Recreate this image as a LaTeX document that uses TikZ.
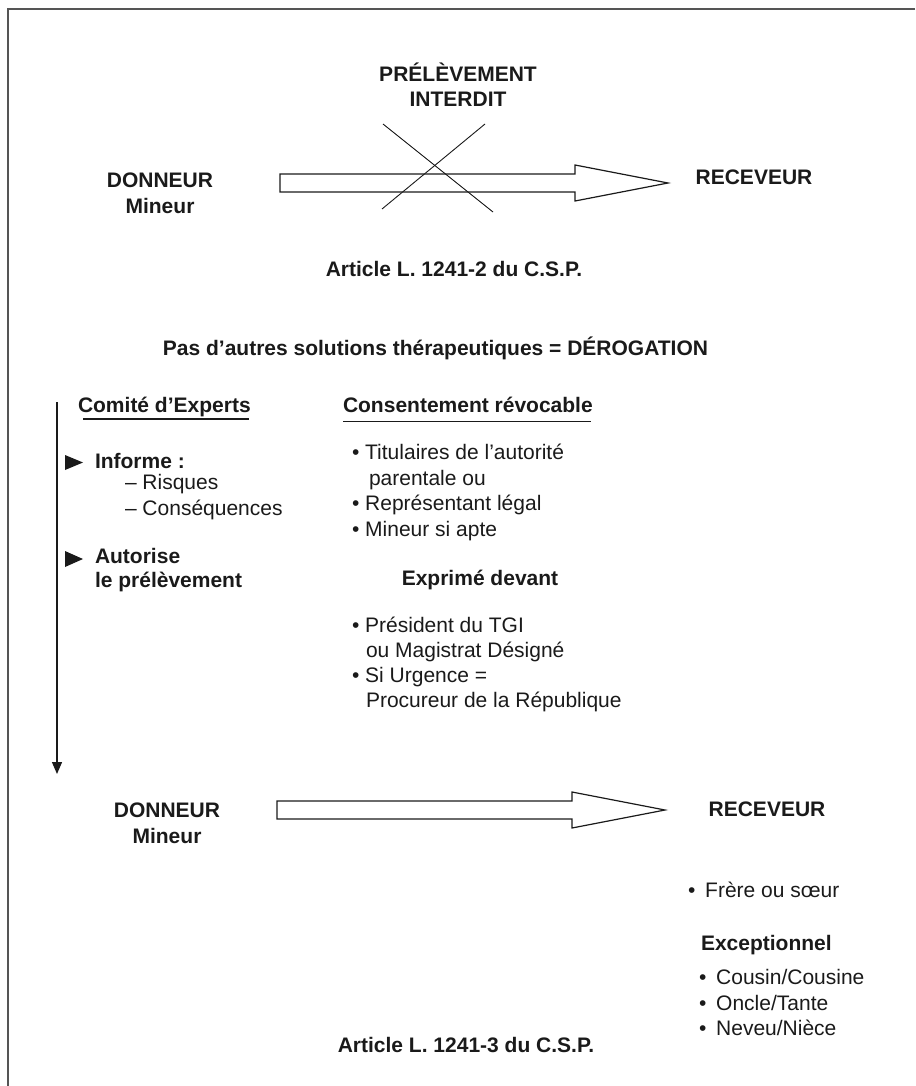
\documentclass[tikz,border=0pt]{standalone}
\usepackage{fontspec}
\setmainfont{Liberation Sans}
\usetikzlibrary{arrows.meta,calc}
\definecolor{ink}{HTML}{1A1A1A}
\definecolor{framegray}{HTML}{555555}
% hollow block arrow from #1 to #2 (horizontal)
\newcommand\hollowarrow[2]{%
  \draw[blockline] ($(#1)+(0,-9)$) -- ($(#2)+(-93,-9)$) -- ($(#2)+(-93,-18)$) -- (#2)
    -- ($(#2)+(-93,18)$) -- ($(#2)+(-93,9)$) -- ($(#1)+(0,9)$) -- cycle;}
\begin{document}
\begin{tikzpicture}[x=1pt,y=-1pt,
  every node/.style={inner sep=0pt, outer sep=0pt, text=ink,
    font=\fontsize{21}{25}\selectfont},
  hd/.style={font=\fontsize{21}{25}\selectfont\bfseries},
  blockline/.style={draw=ink, line width=1.2pt, line join=miter},
  thin/.style={draw=ink, line width=0.9pt},
  rule/.style={draw=ink, line width=1.1pt},
  pointer/.style={fill=ink}]
\useasboundingbox (0,0) rectangle (915,1086);

% page frame (top and left edges)
\draw[framegray, line width=2pt] (915,9) -- (8,9) -- (8,1086);

% ---- forbidden removal ----
\node[hd, anchor=base] (pre1) at (458,82) {PRÉLÈVEMENT};
\node[hd, anchor=base] (pre2) at (458,107) {INTERDIT};
\node[hd, anchor=base] (don1) at (160,188) {DONNEUR};
\node[hd, anchor=base] (min1) at (160,213) {Mineur};
\node[hd, anchor=base] (rec1) at (754,185) {RECEVEUR};
\coordinate (a1s) at (280,183);
\coordinate (a1e) at (668,183);
\hollowarrow{a1s}{a1e}
\coordinate (x1) at (383,124);
\coordinate (x2) at (493,212);
\coordinate (x3) at (485,124);
\coordinate (x4) at (382,209);
\draw[thin] (x1) -- (x2);
\draw[thin] (x3) -- (x4);
\node[hd, anchor=base] (art1) at (454,276.5) {Article L. 1241-2 du C.S.P.};

% ---- derogation ----
\node[hd, anchor=base] (derog) at (435.5,355) {Pas d’autres solutions thérapeutiques = DÉROGATION};

% left column: expert committee
\node[hd, anchor=base west] (com) at (78,412) {Comité d’Experts};
\draw[rule] (83,419) -- (249,419);
\fill[pointer] (65,455) -- (83,462.5) -- (65,470) -- cycle;
\node[hd, anchor=base west] (inf) at (95,468) {Informe :};
\node[anchor=base west] (r1) at (125,489) {– Risques};
\node[anchor=base west] (r2) at (125,515) {– Conséquences};
\fill[pointer] (65,551) -- (83,559) -- (65,567) -- cycle;
\node[hd, anchor=base west] (aut1) at (95,563) {Autorise};
\node[hd, anchor=base west] (aut2) at (95,587) {le prélèvement};

% time line
\coordinate (vtop) at (57,402);
\coordinate (vbot) at (57,774);
\draw[ink, line width=1.3pt, -{Triangle[width=10pt,length=12pt]}] (vtop) -- (vbot);

% right column: consent
\node[hd, anchor=base west] (cons) at (343,412) {Consentement révocable};
\draw[rule] (343,421.5) -- (591,421.5);
\node[anchor=base west] (t1) at (352,459) {• Titulaires de l’autorité};
\node[anchor=base west] (t2) at (369,485) {parentale ou};
\node[anchor=base west] (t3) at (352,510.5) {• Représentant légal};
\node[anchor=base west] (t4) at (352,536) {• Mineur si apte};
\node[hd, anchor=base] (expr) at (480,585) {Exprimé devant};
\node[anchor=base west] (p1) at (352,632) {• Président du TGI};
\node[anchor=base west] (p2) at (366,657) {ou Magistrat Désigné};
\node[anchor=base west] (p3) at (352,682) {• Si Urgence =};
\node[anchor=base west] (p4) at (366,707) {Procureur de la République};

% ---- authorised removal ----
\node[hd, anchor=base] (don2) at (167,817) {DONNEUR};
\node[hd, anchor=base] (min2) at (167,843) {Mineur};
\node[hd, anchor=base] (rec2) at (767,816) {RECEVEUR};
\coordinate (a2s) at (277,810);
\coordinate (a2e) at (665,810);
\hollowarrow{a2s}{a2e}

\node[anchor=base west] (f1) at (688,897) {•\kern4pt\ Frère ou sœur};
\node[hd, anchor=base west] (exc) at (701,950) {Exceptionnel};
\node[anchor=base west] (e1) at (699,984) {•\kern4pt\ Cousin/Cousine};
\node[anchor=base west] (e2) at (699,1010) {•\kern4pt\ Oncle/Tante};
\node[anchor=base west] (e3) at (699,1035) {•\kern4pt\ Neveu/Nièce};
\node[hd, anchor=base] (art2) at (466,1052) {Article L. 1241-3 du C.S.P.};
\end{tikzpicture}
\end{document}
